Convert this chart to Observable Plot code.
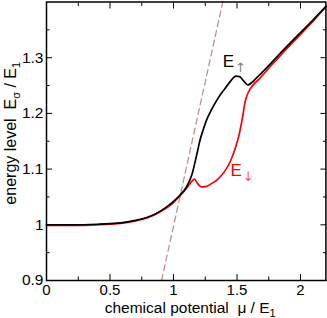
<!DOCTYPE html>
<html>
<head>
<meta charset="utf-8">
<script src="https://cdn.jsdelivr.net/npm/d3@7"></script>
<script src="https://cdn.jsdelivr.net/npm/@observablehq/plot@0.6"></script>
<style>
  html, body { margin: 0; padding: 0; background: white; }
  svg text { white-space: pre; }
</style>
</head>
<body>
<div id="chart"></div>
<script>
// ---- data ----
const upX = [0, 0.2, 0.4, 0.5, 0.6, 0.7, 0.8, 0.9, 1.0, 1.05, 1.1, 1.13, 1.15, 1.17, 1.19, 1.21, 1.23, 1.26, 1.3, 1.35, 1.4, 1.45, 1.49, 1.52, 1.55, 1.585, 1.62, 1.66, 1.7, 1.8, 1.9, 2.0, 2.1, 2.2];
const upY = [1.0, 1.0, 1.001, 1.002, 1.004, 1.008, 1.014, 1.025, 1.042, 1.053, 1.067, 1.081, 1.094, 1.113, 1.133, 1.153, 1.168, 1.188, 1.207, 1.227, 1.243, 1.258, 1.267, 1.266, 1.259, 1.251, 1.256, 1.265, 1.274, 1.298, 1.322, 1.345, 1.368, 1.392];

const downX = [0, 0.2, 0.4, 0.5, 0.6, 0.7, 0.8, 0.9, 1.0, 1.05, 1.1, 1.13, 1.165, 1.19, 1.22, 1.26, 1.3, 1.35, 1.4, 1.45, 1.49, 1.52, 1.545, 1.565, 1.59, 1.62, 1.68, 1.75, 1.85, 2.0, 2.1, 2.2];
const downY = [0.999, 0.999, 1.0, 1.001, 1.003, 1.007, 1.013, 1.024, 1.040, 1.052, 1.065, 1.074, 1.082, 1.074, 1.068, 1.069, 1.074, 1.082, 1.095, 1.115, 1.140, 1.165, 1.195, 1.222, 1.238, 1.249, 1.263, 1.281, 1.306, 1.342, 1.366, 1.391];

const dashX = [0.906, 1.391];
const dashY = [0.9, 1.403];

const labelX = [1.387, 1.449];
const labelY = [1.283, 1.087];
const labelMain = ["E", "E"];
const labelSub = ["↑", "↓"];

const xMajor = [0, 0.5, 1, 1.5, 2];
const xMinor = [0.25, 0.75, 1.25, 1.75];
const yMajor = [0.9, 1, 1.1, 1.2, 1.3];
const yMinor = [0.95, 1.05, 1.15, 1.25, 1.35];
const xTickLabels = ["0", "0.5", "1", "1.5", "2"];
const yTickLabels = ["0.9", "1", "1.1", "1.2", "1.3"];

const xTitle = ["chemical potential  μ / E", "1"];
const yTitle = ["energy level  E", "σ", " / E", "1"];

// ---- chart ----
const font = "'Liberation Sans', Arial, Helvetica, sans-serif";
const idx = a => d3.range(a.length);

const chart = Plot.plot({
  width: 327,
  height: 318,
  marginLeft: 46,
  marginRight: 1.6,
  marginTop: 1.5,
  marginBottom: 38,
  style: { fontFamily: font, fontSize: "15px", background: "white", color: "black", overflow: "visible" },
  x: { domain: [0, 2.2], axis: null },
  y: { domain: [0.9, 1.4], axis: null },
  marks: [
    // ticks (inward) on all four sides
    Plot.axisX(xMajor, { anchor: "bottom", tickSize: -6, tickFormat: () => "", label: null }),
    Plot.axisX(xMinor, { anchor: "bottom", tickSize: -3.5, tickFormat: () => "", label: null }),
    Plot.axisX(xMajor, { anchor: "top", tickSize: -6, tickFormat: () => "", label: null }),
    Plot.axisX(xMinor, { anchor: "top", tickSize: -3.5, tickFormat: () => "", label: null }),
    Plot.axisY(yMajor, { anchor: "left", tickSize: -6, tickFormat: () => "", label: null }),
    Plot.axisY(yMinor, { anchor: "left", tickSize: -3.5, tickFormat: () => "", label: null }),
    Plot.axisY(yMajor, { anchor: "right", tickSize: -6, tickFormat: () => "", label: null }),
    Plot.axisY(yMinor, { anchor: "right", tickSize: -3.5, tickFormat: () => "", label: null }),
    // tick labels
    Plot.axisX(xMajor, { anchor: "bottom", tickSize: 0, tickPadding: 4, tickFormat: (d, i) => xTickLabels[i], label: null, fontSize: 15 }),
    Plot.axisY(yMajor, { anchor: "left", tickSize: 0, tickPadding: 3, tickFormat: (d, i) => yTickLabels[i], label: null, fontSize: 15.5 }),
    // dashed line
    Plot.line(idx(dashX), { x: dashX, y: dashY, stroke: "#bf9090", strokeWidth: 1.3, strokeDasharray: "6,4", clip: true }),
    // curves
    Plot.line(idx(downX), { x: downX, y: downY, stroke: "#ff0000", strokeWidth: 1.7, curve: "monotone-x" }),
    Plot.line(idx(upX), { x: upX, y: upY, stroke: "black", strokeWidth: 1.7, curve: "monotone-x" }),
    // curve labels
    Plot.text([0], { x: [labelX[0]], y: [labelY[0]], text: [labelMain[0]], fill: "black", textAnchor: "start", lineAnchor: "bottom", fontSize: 17, className: "lab-up" }),
    Plot.text([0], { x: [labelX[1]], y: [labelY[1]], text: [labelMain[1]], fill: "#ff0000", textAnchor: "start", lineAnchor: "bottom", fontSize: 17, className: "lab-down" }),
    // axis titles
    Plot.text([0], { frameAnchor: "bottom", text: [xTitle[0]], dy: 32.5, dx: 4, lineAnchor: "bottom", textAnchor: "middle", fontSize: 15.5, className: "xtitle" }),
    Plot.text([0], { frameAnchor: "left", text: [yTitle[0]], rotate: -90, dx: -31, dy: -8, lineAnchor: "bottom", textAnchor: "middle", fontSize: 16, className: "ytitle" }),
    // frame
    Plot.frame({ stroke: "black", strokeWidth: 1.5 })
  ]
});

document.getElementById("chart").appendChild(chart);

// ---- subscripts via tspans ----
const svg = d3.select(chart);
function subs(sel, parts, subSize, shift) {
  sel.each(function () {
    const t = d3.select(this);
    t.text(null);
    let cur = 0;
    parts.forEach((p, i) => {
      const isSub = i % 2 === 1;
      const target = isSub ? shift : 0;
      const ts = t.append("tspan").text(p).attr("dy", target - cur);
      if (isSub) ts.attr("font-size", subSize);
      cur = target;
    });
  });
}
subs(svg.selectAll("g.xtitle text"), xTitle, 11, 4);
subs(svg.selectAll("g.ytitle text"), yTitle, 11, 4);
svg.selectAll("g.lab-up text").append("tspan").text(labelSub[0])
  .attr("dy", 5).attr("dx", 1).attr("font-size", 13).attr("font-family", "'DejaVu Sans', sans-serif").attr("fill", "#808080");
svg.selectAll("g.lab-down text").append("tspan").text(labelSub[1])
  .attr("dy", 5).attr("dx", 1).attr("font-size", 13).attr("font-family", "'DejaVu Sans', sans-serif").attr("fill", "#ff5050");
</script>
</body>
</html>
